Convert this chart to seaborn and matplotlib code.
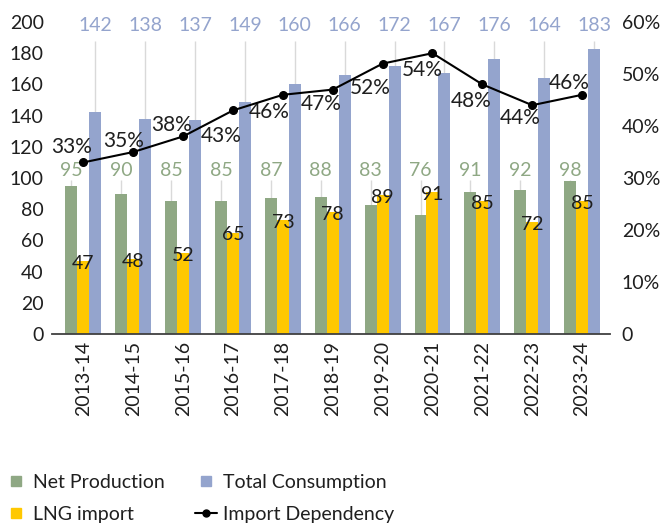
import matplotlib
matplotlib.use("Agg")
import matplotlib.pyplot as plt
import pandas as pd
import seaborn as sns
from matplotlib.lines import Line2D

years = ["2013-14", "2014-15", "2015-16", "2016-17", "2017-18", "2018-19",
         "2019-20", "2020-21", "2021-22", "2022-23", "2023-24"]
net_production = [95, 90, 85, 85, 87, 88, 83, 76, 91, 92, 98]
lng_import = [47, 48, 52, 65, 73, 78, 89, 91, 85, 72, 85]
total_consumption = [142, 138, 137, 149, 160, 166, 172, 167, 176, 164, 183]
import_dependency = [33, 35, 38, 43, 46, 47, 52, 54, 48, 44, 46]

series_names = ["Net Production", "LNG import", "Total Consumption"]
GREEN = "#8FA884"
YELLOW = "#FFC800"
BLUE = "#94A4CD"
TEXT = "#1f1f1f"

df = pd.DataFrame({
    "year": years * 3,
    "series": [series_names[0]] * 11 + [series_names[1]] * 11 + [series_names[2]] * 11,
    "value": net_production + lng_import + total_consumption,
})

sns.set_theme(style="white")
plt.rcParams["font.family"] = ["Lato", "DejaVu Sans"]

fig = plt.figure(figsize=(6.6, 5.23), dpi=100)
ax = fig.add_axes([52 / 660, 1 - 334 / 523, (610 - 52) / 660, (334 - 22) / 523])

sns.barplot(data=df, x="year", y="value", hue="series", hue_order=series_names,
            palette=[GREEN, YELLOW, BLUE], width=0.72, saturation=1,
            linewidth=0, legend=False, ax=ax, zorder=2)

ax.set_xlim(-0.63, 10.56)
ax.set_ylim(0, 200)
ax.set_yticks(range(0, 201, 20))
ax.set_xlabel("")
ax.set_ylabel("")
ax.tick_params(axis="y", length=0, pad=6, labelsize=14, labelcolor=TEXT)
ax.tick_params(axis="x", length=0, pad=5, labelsize=14, labelcolor=TEXT, rotation=90)
for s in ["left", "right", "top"]:
    ax.spines[s].set_visible(False)
ax.spines["bottom"].set_color("#404040")
ax.spines["bottom"].set_linewidth(1.3)
ax.spines["bottom"].set_zorder(3)

green_bars, lng_bars, cons_bars = ax.containers[0], ax.containers[1], ax.containers[2]

# leader lines + labels
for bar in green_bars:
    xc = bar.get_x() + bar.get_width() / 2
    h = bar.get_height()
    if h < 99:
        ax.vlines(xc, h, 99, color="#D9D9D9", lw=1, zorder=1)
    ax.text(xc, 104.5, f"{h:.0f}", ha="center", va="center", fontsize=14, color=GREEN)

for bar in cons_bars:
    xc = bar.get_x() + bar.get_width() / 2
    h = bar.get_height()
    if h < 188:
        ax.vlines(xc, h, 188, color="#D9D9D9", lw=1, zorder=1)
    ax.text(xc, 197.5, f"{h:.0f}", ha="center", va="center", fontsize=14, color=BLUE, clip_on=False)

for bar in lng_bars:
    xc = bar.get_x() + bar.get_width() / 2
    h = bar.get_height()
    ax.text(xc, h - 1.5, f"{h:.0f}", ha="center", va="center", fontsize=14, color=TEXT, zorder=4)

# import dependency on right axis
ax2 = ax.twinx()
xs = range(len(years))
ax2.plot(xs, import_dependency, color="black", lw=1.5, marker="o", ms=5.5, zorder=5)
ax2.set_ylim(0, 60)
ax2.set_yticks(range(0, 61, 10))
ax2.set_yticklabels(["0"] + [f"{v}%" for v in range(10, 61, 10)])
ax2.tick_params(axis="y", length=0, pad=8.5, labelsize=14, labelcolor=TEXT)
for s in ax2.spines.values():
    s.set_visible(False)
ax2.grid(False)
ax.grid(False)

pct_offsets = [(-12, 15), (-10, 11), (-12, 11), (-12, -26), (-14, -17), (-12, -14),
               (-12, -24), (-10, -17), (-11, -17), (-12, -13), (-13, 12)]
for x, v, off in zip(xs, import_dependency, pct_offsets):
    ax2.annotate(f"{v}%", (x, v), xytext=off, textcoords="offset pixels",
                 ha="center", va="center", fontsize=15, color=TEXT)

handles = [
    Line2D([], [], ls="none", marker="s", ms=7.5, color=GREEN),
    Line2D([], [], ls="none", marker="s", ms=7.5, color=YELLOW),
    Line2D([], [], ls="none", marker="s", ms=7.5, color=BLUE),
    Line2D([], [], color="black", lw=1.5, marker="o", ms=5),
]
labels = ["Net Production", "LNG import", "Total Consumption", "Import Dependency"]
fig.legend(handles, labels, loc="upper left", bbox_to_anchor=(0.007, 0.094),
           ncol=2, frameon=False, fontsize=14, handlelength=1.15, handletextpad=0.3,
           columnspacing=1.55, labelspacing=0.78, borderpad=0, borderaxespad=0,
           labelcolor=TEXT)

fig.savefig("out.png", dpi=100)
